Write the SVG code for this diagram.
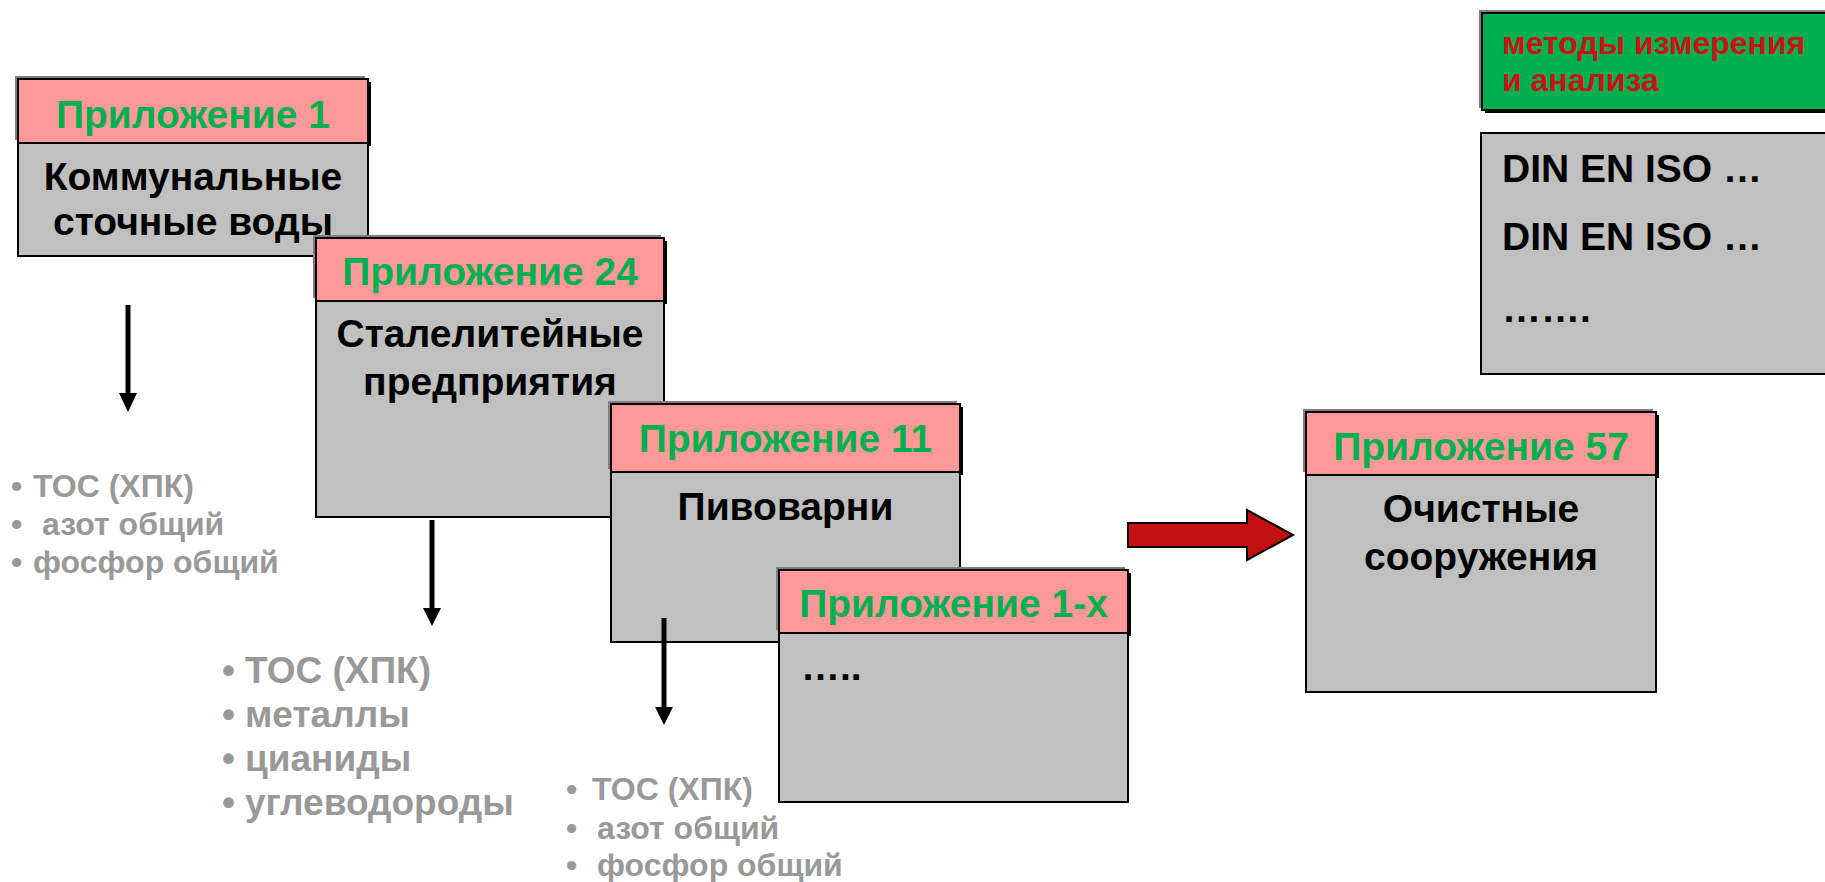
<svg xmlns="http://www.w3.org/2000/svg" width="1825" height="882" viewBox="0 0 1825 882">
<style>
text{font-family:"Liberation Sans",Arial,sans-serif;font-weight:bold}
.hdr{fill:#FF9999;stroke:#000;stroke-width:2}
.body{fill:#C0C0C0;stroke:#000;stroke-width:2}
.sg{fill:#808080}
.sb{fill:#000}
.ht{fill:#00B050;font-size:39px;text-anchor:middle}
.bt{fill:#000;font-size:39px;text-anchor:middle}
.gl{fill:#999999}
.ln{stroke:#000;stroke-width:5;fill:none}
</style>
<rect width="1825" height="882" fill="#fff"/>
<g id="box1">
<rect class="sg" x="15" y="76" width="350" height="64"/>
<rect class="sb" x="21" y="82" width="350" height="64"/>
<rect class="hdr" x="18" y="79" width="350" height="64"/>
<rect class="body" x="18" y="143" width="350" height="113"/>
<text class="ht" x="193" y="128">Приложение 1</text>
<text class="bt" x="193" y="190">Коммунальные</text>
<text class="bt" x="193" y="235">сточные воды</text>
</g>
<g id="box2">
<rect class="sg" x="313" y="235" width="348" height="63"/>
<rect class="sb" x="319" y="241" width="348" height="63"/>
<rect class="hdr" x="316" y="238" width="348" height="63"/>
<rect class="body" x="316" y="301" width="348" height="216"/>
<text class="ht" x="490" y="285">Приложение 24</text>
<text class="bt" x="490" y="347">Сталелитейные</text>
<text class="bt" x="490" y="395">предприятия</text>
</g>
<g id="box3">
<rect class="sg" x="608" y="401" width="349" height="68"/>
<rect class="sb" x="614" y="407" width="349" height="68"/>
<rect class="hdr" x="611" y="404" width="349" height="68"/>
<rect class="body" x="611" y="472" width="349" height="170"/>
<text class="ht" x="785.5" y="452">Приложение 11</text>
<text class="bt" x="785.5" y="520">Пивоварни</text>
</g>
<g id="box4">
<rect class="sg" x="776" y="567" width="349" height="63"/>
<rect class="sb" x="782" y="573" width="349" height="63"/>
<rect class="hdr" x="779" y="570" width="349" height="63"/>
<rect class="body" x="779" y="633" width="349" height="169"/>
<text class="ht" x="953.5" y="617">Приложение 1-x</text>
<text class="bt" x="801" y="680" style="text-anchor:start">…..</text>
</g>
<g id="box57">
<rect class="sg" x="1303" y="409" width="350" height="63"/>
<rect class="sb" x="1309" y="415" width="350" height="63"/>
<rect class="hdr" x="1306" y="412" width="350" height="63"/>
<rect class="body" x="1306" y="475" width="350" height="217"/>
<text class="ht" x="1481" y="460">Приложение 57</text>
<text class="bt" x="1481" y="522">Очистные</text>
<text class="bt" x="1481" y="570">сооружения</text>
</g>
<g id="methods">
<rect class="sg" x="1479" y="10" width="360" height="98"/>
<rect class="sb" x="1485" y="15" width="360" height="98"/>
<rect x="1482" y="13" width="360" height="97" fill="#00B050" stroke="#000" stroke-width="2"/>
<text x="1502" y="54" font-size="32" fill="#C81414">методы измерения</text>
<text x="1502" y="91" font-size="32" fill="#C81414">и анализа</text>
</g>
<g id="din">
<rect class="body" x="1481" y="133" width="360" height="241"/>
<text x="1502" y="182" font-size="39" fill="#000">DIN EN ISO …</text>
<text x="1502" y="250" font-size="39" fill="#000">DIN EN ISO …</text>
<text x="1502" y="322" font-size="39" fill="#000">…….</text>
</g>
<g id="list1" class="gl" font-size="32">
<text x="11" y="497">•</text><text x="33" y="497">ТОС (ХПК)</text>
<text x="11" y="535">•</text><text x="42" y="535">азот общий</text>
<text x="11" y="573">•</text><text x="33" y="573">фосфор общий</text>
</g>
<g id="list2" class="gl" font-size="37">
<text x="222" y="683">•</text><text x="245" y="683">ТОС (ХПК)</text>
<text x="222" y="727">•</text><text x="245" y="727">металлы</text>
<text x="222" y="771">•</text><text x="245" y="771">цианиды</text>
<text x="222" y="815">•</text><text x="245" y="815">углеводороды</text>
</g>
<g id="list3" class="gl" font-size="32">
<text x="566" y="800">•</text><text x="592" y="800">ТОС (ХПК)</text>
<text x="566" y="839">•</text><text x="597" y="839">азот общий</text>
<text x="566" y="876">•</text><text x="597" y="876">фосфор общий</text>
</g>
<g id="connectors">
<line class="ln" x1="128" y1="305" x2="128" y2="395"/>
<polygon points="119,393 137,393 128,412"/>
<line class="ln" x1="432" y1="520" x2="432" y2="610"/>
<polygon points="423,608 441,608 432,626"/>
<line class="ln" x1="664" y1="618" x2="664" y2="709"/>
<polygon points="655,707 673,707 664,725"/>
<polygon points="1128,523 1247,523 1247,510 1293,535 1247,560 1247,547 1128,547" fill="#C41010" stroke="#000" stroke-width="2"/>
</g>
</svg>
